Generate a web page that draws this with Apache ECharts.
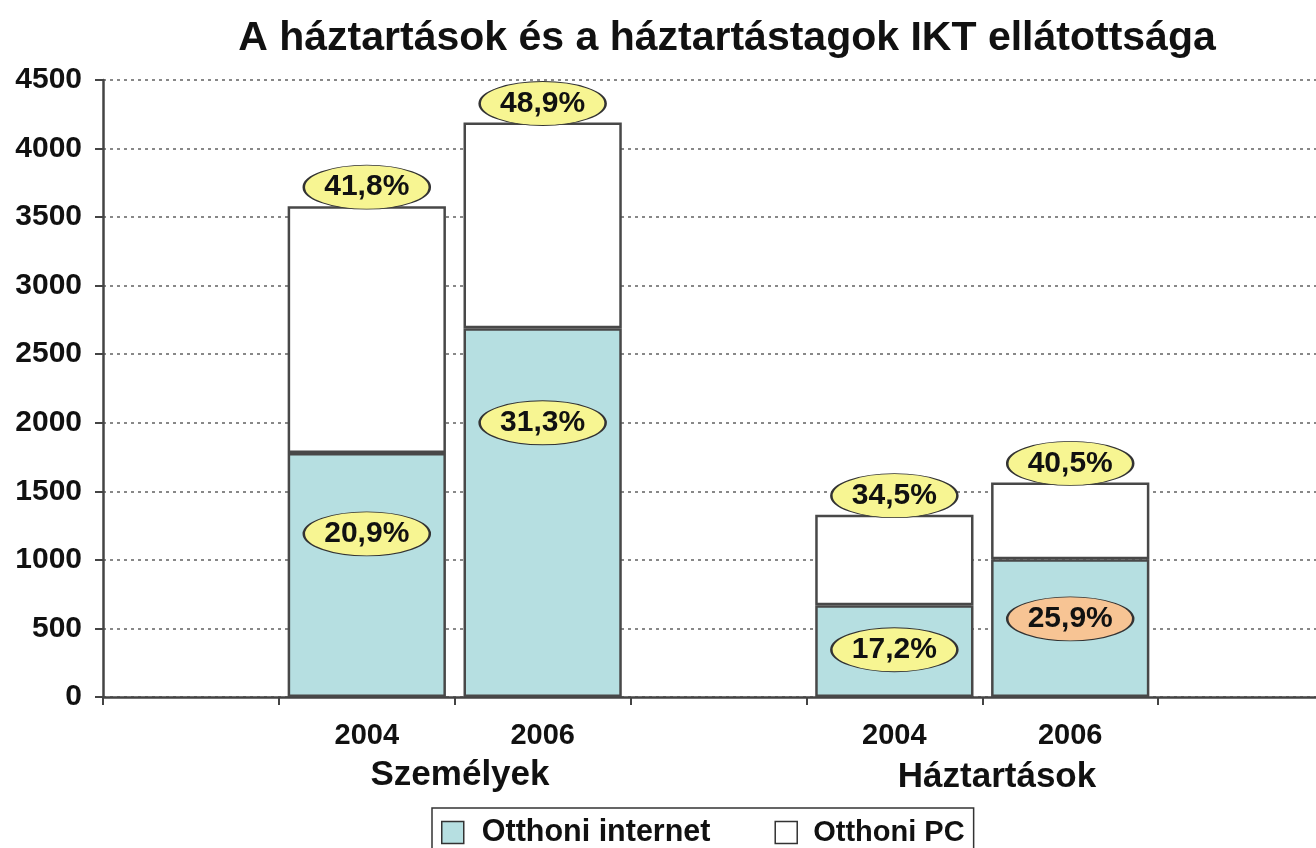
<!DOCTYPE html>
<html>
<head>
<meta charset="utf-8">
<script src="https://cdn.jsdelivr.net/npm/echarts@6/dist/echarts.min.js"></script>
<style>
  html, body { margin: 0; padding: 0; background: #fff; overflow: hidden; width: 1316px; height: 848px; }
  #chart { width: 1334px; height: 848px; }
</style>
</head>
<body>
<div id="chart"></div>
<script>
// ---- data ----
const categories = ['', '2004', '2006', '', '2004', '2006', ''];
const groupNames = ['Személyek', 'Háztartások'];
const internetValues = [null, 1780, 2690, null, 670, 1005, null];   // Otthoni internet
const pcTotals       = [null, 3580, 4190, null, 1330, 1565, null];   // Otthoni PC (total bar height)
const pcPercents       = [null, '41,8%', '48,9%', null, '34,5%', '40,5%', null];
const internetPercents = [null, '20,9%', '31,3%', null, '17,2%', '25,9%', null];
const internetLabelAt  = [null, 1190, 2000, null, 345, 570, null];  // where the internet ellipses sit
const highlighted      = [false, false, false, false, false, true, false];
const yTicks = [0, 500, 1000, 1500, 2000, 2500, 3000, 3500, 4000, 4500];

// ---- derived ----
const pcRemainder = pcTotals.map((t, i) => t == null ? null : t - internetValues[i]);
const FONT = '"Liberation Sans", Arial, sans-serif';
const YELLOW = '#f7f592';
const ORANGE = '#f7c494';
const TEAL = '#b6dfe1';

const topEllipses = [];
const lowEllipses = [];
categories.forEach((c, i) => {
  if (pcTotals[i] != null) {
    topEllipses.push({ value: [i, pcTotals[i]], name: pcPercents[i] });
  }
  if (internetLabelAt[i] != null) {
    lowEllipses.push({
      value: [i, internetLabelAt[i]],
      name: internetPercents[i],
      itemStyle: { color: highlighted[i] ? ORANGE : YELLOW }
    });
  }
});

const ellipseBase = {
  type: 'scatter',
  symbol: 'circle',
  symbolSize: [126, 44],
  z: 10,
  silent: true,
  itemStyle: { color: YELLOW, borderColor: '#333', borderWidth: 1.5, opacity: 1 },
  label: {
    show: true, position: 'inside',
    formatter: p => p.name,
    color: '#111', fontFamily: FONT, fontWeight: 'bold', fontSize: 30
  }
};

const chart = echarts.init(document.getElementById('chart'), null, { renderer: 'canvas' });
chart.setOption({
  animation: false,
  backgroundColor: '#fff',
  title: {
    text: 'A háztartások és a háztartástagok IKT ellátottsága',
    left: 722, top: 13, textAlign: 'center',
    textStyle: { fontFamily: FONT, fontWeight: 'bold', fontSize: 41, color: '#111' }
  },
  grid: { left: 103, top: 80, bottom: 151, right: 0, containLabel: false },
  legend: {
    data: [
      { name: 'Otthoni internet' },
      { name: 'Otthoni PC', textStyle: { fontSize: 29, padding: [0, 0, 0, 11] } }
    ],
    left: 432, top: 808,
    orient: 'horizontal',
    padding: [9, 9, 9, 9],
    borderColor: '#333', borderWidth: 1.5,
    itemWidth: 22, itemHeight: 22, itemGap: 64,
    icon: 'rect',
    itemStyle: { borderColor: '#333', borderWidth: 1.5 },
    textStyle: { fontFamily: FONT, fontWeight: 'bold', fontSize: 30.5, color: '#111', padding: [0, 0, 0, 13] }
  },
  xAxis: {
    type: 'category',
    data: categories,
    boundaryGap: true,
    axisLine: { lineStyle: { color: '#444', width: 2.5 } },
    axisTick: { show: true, length: 8, inside: false, lineStyle: { color: '#444', width: 2 } },
    axisLabel: { interval: 0, margin: 24, fontFamily: FONT, fontWeight: 'bold', fontSize: 29, color: '#111' },
    splitLine: { show: false }
  },
  yAxis: {
    type: 'value',
    min: 0, max: 4500, interval: 500,
    axisLine: { show: true, lineStyle: { color: '#444', width: 2.5 } },
    axisTick: { show: true, length: 8, lineStyle: { color: '#444', width: 2 } },
    axisLabel: {
      margin: 21, fontFamily: FONT, fontWeight: 'bold', fontSize: 30, color: '#111',
      formatter: v => yTicks.includes(v) ? String(v) : ''
    },
    splitLine: { show: true, lineStyle: { color: '#888', width: 2, type: [3, 4] } }
  },
  series: [
    {
      name: 'Otthoni internet', type: 'bar', stack: 'total',
      data: internetValues,
      barCategoryGap: '10%',
      itemStyle: { color: TEAL, borderColor: '#484848', borderWidth: 2.5 }
    },
    {
      name: 'Otthoni PC', type: 'bar', stack: 'total',
      data: pcRemainder,
      barCategoryGap: '10%',
      itemStyle: { color: '#ffffff', borderColor: '#484848', borderWidth: 2.5 }
    },
    Object.assign({}, ellipseBase, { name: 'pcLabels', data: topEllipses, symbolOffset: [0, -19] }),
    Object.assign({}, ellipseBase, { name: 'netLabels', data: lowEllipses })
  ],
  graphic: [
    { type: 'text', x: 460, y: 775, style: { text: groupNames[0], textAlign: 'center', textVerticalAlign: 'middle', font: 'bold 35px ' + FONT, fill: '#111' } },
    { type: 'text', x: 997, y: 777, style: { text: groupNames[1], textAlign: 'center', textVerticalAlign: 'middle', font: 'bold 35px ' + FONT, fill: '#111' } }
  ]
});
</script>
</body>
</html>
